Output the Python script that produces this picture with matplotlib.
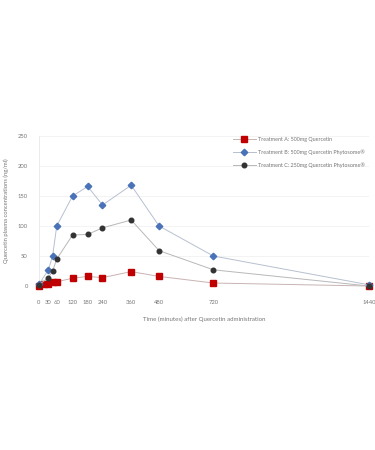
import numpy as np
import matplotlib
matplotlib.use("Agg")
import matplotlib.pyplot as plt

# minutes after dosing
times_a = [0, 15, 30, 45, 60, 120, 180, 240, 360, 480, 720, 1440]
conc_a = [0, 3, 4, 6, 7, 13, 16, 14, 24, 16, 5, 0]

times_bc = [0, 30, 45, 60, 120, 180, 240, 360, 480, 720, 1440]
conc_b = [3, 27, 50, 100, 150, 166, 135, 168, 100, 50, 2]
conc_c = [2, 14, 25, 45, 85, 86, 97, 110, 59, 27, 0]

labels = ["Treatment A: 500mg Quercetin",
          "Treatment B: 500mg Quercetin Phytosome\u00ae",
          "Treatment C: 250mg Quercetin Phytosome\u00ae"]
xticks = [0, 30, 60, 120, 180, 240, 360, 480, 720, 1440]
yticks = [0, 50, 100, 150, 200, 250]

plt.rcParams['font.family'] = ['Lato', 'DejaVu Sans']
txt = '#767676'

fig = plt.figure(figsize=(3.75, 4.5), dpi=100)
ax = fig.add_axes([0.104, 0.3644, 0.88, 0.3333])

def fwd(x):
    x = np.asarray(x, dtype=float)
    return np.sign(x) * np.abs(x) ** 0.92

def inv(x):
    x = np.asarray(x, dtype=float)
    return np.sign(x) * np.abs(x) ** (1 / 0.92)

ax.set_xscale('function', functions=(fwd, inv))

ax.plot(times_a, conc_a, color='#c9b3b3', lw=0.7, marker='s', ms=3.8,
        mfc='#c00000', mec='#c00000', label=labels[0], clip_on=False, zorder=3)
ax.plot(times_bc, conc_b, color='#b7c0d0', lw=0.7, marker='D', ms=3.3,
        mfc='#4a72b8', mec='#4a72b8', label=labels[1], clip_on=False, zorder=3)
ax.plot(times_bc, conc_c, color='#b8b8b8', lw=0.7, marker='o', ms=3.3,
        mfc='#333333', mec='#333333', label=labels[2], clip_on=False, zorder=3)

ax.set_xlim(0, 1440)
ax.set_ylim(0, 250)
ax.set_xticks(xticks)
ax.set_xticklabels([str(t) for t in xticks])
ax.set_yticks(yticks)
ax.tick_params(axis='both', length=0, labelsize=4.2, colors=txt)
ax.tick_params(axis='x', pad=10)
ax.tick_params(axis='y', pad=8)
ax.grid(axis='y', color='#eeeeee', lw=0.5)
ax.set_axisbelow(True)
for s in ['top', 'right', 'bottom']:
    ax.spines[s].set_visible(False)
ax.spines['left'].set_color('#e3e3e3')
ax.spines['left'].set_linewidth(0.5)

ax.set_xlabel("Time (minutes) after Quercetin administration", fontsize=4.4,
              color=txt, labelpad=8)
ax.set_ylabel("Quercetin plasma concentrations (ng/ml)", fontsize=4.2,
              color=txt, labelpad=6)

leg = fig.legend(loc='upper left', bbox_to_anchor=(0.615, 0.700), frameon=False,
                 fontsize=3.9, labelcolor=txt, handlelength=4.2, handletextpad=0.4,
                 labelspacing=1.35, borderaxespad=0)

fig.savefig("out.png", dpi=100, facecolor='white')
